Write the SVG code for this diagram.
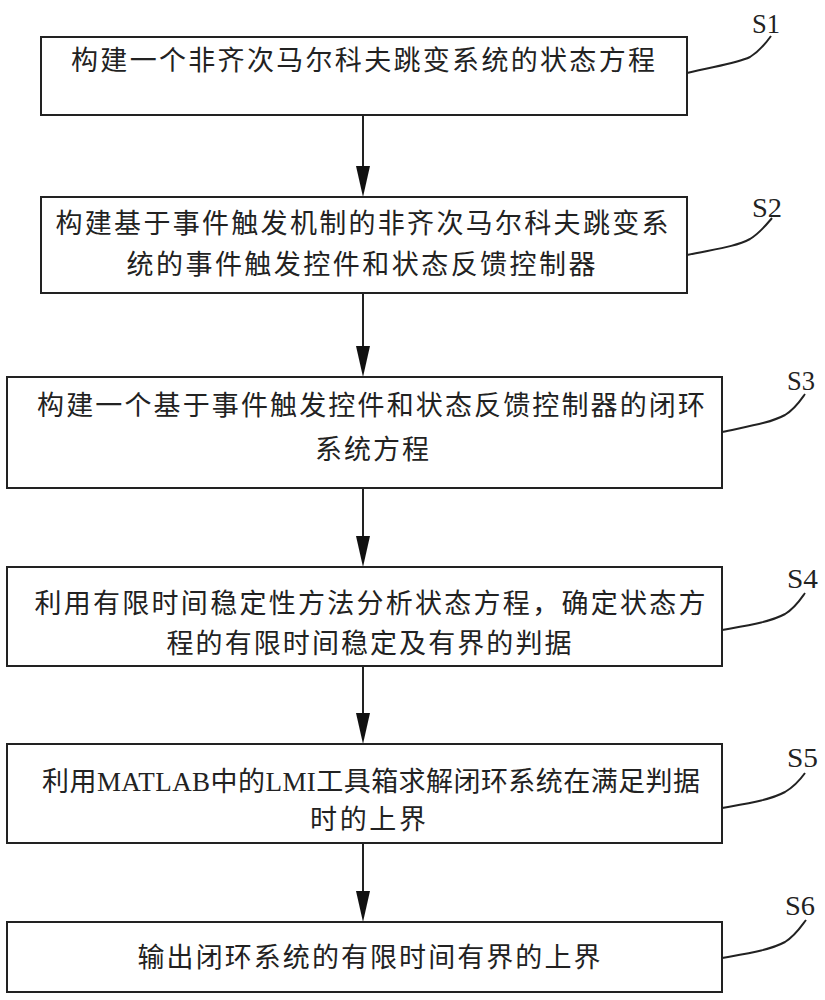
<svg xmlns="http://www.w3.org/2000/svg" width="825" height="1000" viewBox="0 0 825 1000">
<style>
.box{fill:#fff;stroke:#222;stroke-width:2}
.t{font-family:"Noto Sans CJK SC","Noto Sans CJK TC",sans-serif;font-size:27px;fill:#222;text-anchor:middle}
.lat{font-family:"Liberation Serif",serif}
.lbl{font-family:"Liberation Serif",serif;font-size:28px;fill:#222}
.lead{fill:none;stroke:#222;stroke-width:2}
.conn{stroke:#222;stroke-width:2;fill:none}
</style>
<defs>
<marker id="ah" markerUnits="userSpaceOnUse" markerWidth="16" markerHeight="32" refX="7" refY="31" orient="auto-start-reverse" viewBox="0 0 14 32">
<path d="M0,0 L14,0 L7,31 Z" fill="#111"/>
</marker>
</defs>
<rect width="825" height="1000" fill="#fff"/>
<g id="connectors">
<line class="conn" x1="363" y1="115" x2="363" y2="167" />
<path d="M356,166 L370,166 L363,197 Z" fill="#111"/>
<line class="conn" x1="363" y1="293" x2="363" y2="347" />
<path d="M356,346 L370,346 L363,377 Z" fill="#111"/>
<line class="conn" x1="363" y1="488" x2="363" y2="537" />
<path d="M356,536 L370,536 L363,567 Z" fill="#111"/>
<line class="conn" x1="363" y1="666" x2="363" y2="714" />
<path d="M356,713 L370,713 L363,744 Z" fill="#111"/>
<line class="conn" x1="363" y1="843" x2="363" y2="892" />
<path d="M356,891 L370,891 L363,922 Z" fill="#111"/>
</g>
<g id="S1">
<rect class="box" x="41" y="37" width="646" height="78"/>
<text class="t" x="363" y="70" textLength="584" lengthAdjust="spacing">构建一个非齐次马尔科夫跳变系统的状态方程</text>
<path class="lead" d="M687,73 C715,66 735,64 750,57 C760,51 766,43 771,36"/>
<text class="lbl" x="752" y="33" textLength="28" lengthAdjust="spacingAndGlyphs">S1</text>
</g>
<g id="S2">
<rect class="box" x="41" y="197" width="646" height="96"/>
<text class="t" x="362" y="233" textLength="613" lengthAdjust="spacing">构建基于事件触发机制的非齐次马尔科夫跳变系</text>
<text class="t" x="361" y="274" textLength="469" lengthAdjust="spacing">统的事件触发控件和状态反馈控制器</text>
<path class="lead" d="M687,255 C715,249 735,247 750,239 C760,233 766,225 772,218"/>
<text class="lbl" x="752" y="217" textLength="30" lengthAdjust="spacingAndGlyphs">S2</text>
</g>
<g id="S3">
<rect class="box" x="7" y="377" width="715" height="111"/>
<text class="t" x="371" y="415" textLength="668" lengthAdjust="spacing">构建一个基于事件触发控件和状态反馈控制器的闭环</text>
<text class="t" x="372" y="459" textLength="114" lengthAdjust="spacing">系统方程</text>
<path class="lead" d="M722,432 C750,426 770,423 785,415 C795,409 800,401 805,394"/>
<text class="lbl" x="787" y="390" textLength="28" lengthAdjust="spacingAndGlyphs">S3</text>
</g>
<g id="S4">
<rect class="box" x="7" y="567" width="715" height="99"/>
<text class="t" x="370" y="613" textLength="671" lengthAdjust="spacing">利用有限时间稳定性方法分析状态方程，确定状态方</text>
<text class="t" x="369" y="653" textLength="405" lengthAdjust="spacing">程的有限时间稳定及有界的判据</text>
<path class="lead" d="M722,630 C750,625 770,622 785,614 C795,608 800,600 805,593"/>
<text class="lbl" x="787" y="588" textLength="31" lengthAdjust="spacingAndGlyphs">S4</text>
</g>
<g id="S5">
<rect class="box" x="7" y="744" width="715" height="99"/>
<text class="t" x="371" y="791" textLength="658" lengthAdjust="spacing">利用<tspan class="lat">MATLAB</tspan>中的<tspan class="lat">LMI</tspan>工具箱求解闭环系统在满足判据</text>
<text class="t" x="368" y="829" textLength="116" lengthAdjust="spacing">时的上界</text>
<path class="lead" d="M722,808 C750,803 770,800 785,792 C795,786 800,780 805,773"/>
<text class="lbl" x="787" y="767" textLength="31" lengthAdjust="spacingAndGlyphs">S5</text>
</g>
<g id="S6">
<rect class="box" x="7" y="922" width="715" height="70"/>
<text class="t" x="369" y="967" textLength="463" lengthAdjust="spacing">输出闭环系统的有限时间有界的上界</text>
<path class="lead" d="M722,958 C750,953 770,950 785,942 C795,936 800,928 806,920"/>
<text class="lbl" x="785" y="915" textLength="30" lengthAdjust="spacingAndGlyphs">S6</text>
</g>
</svg>
